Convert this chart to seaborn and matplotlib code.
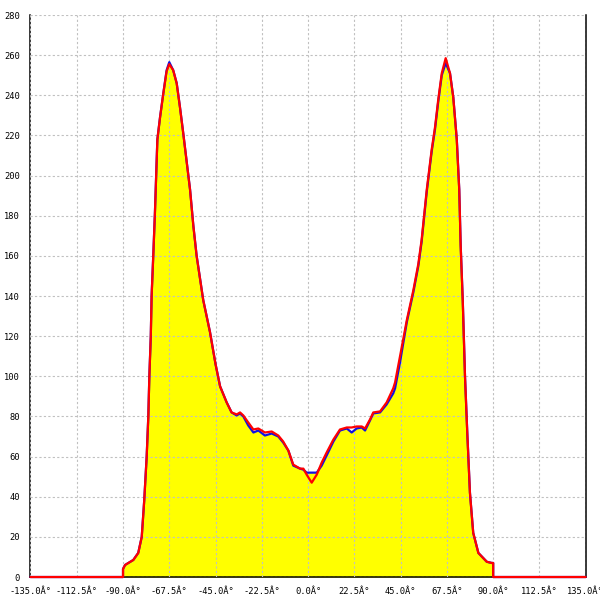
import matplotlib

matplotlib.use("Agg")
import matplotlib.pyplot as plt
import numpy as np
import pandas as pd
import seaborn as sns

# angle (degrees) at which both series were sampled
ANGLES = [
    -135, -90, -90, -89, -85, -82.6, -80.9, -79.7, -78.5, -77.7, -77.2, -76.5, -76.1,
    -75.3, -74.5, -73.3, -72.0, -70.4, -68.8, -67.5, -65.6, -63.9, -62.3, -60.7, -58.7,
    -57.4, -55.8, -54.2, -51.0, -47.7, -45.0, -42.8, -39.6, -37.2, -34.7, -33.1, -31.5,
    -29.1, -26.6, -24.2, -21.0, -17.7, -14.5, -12.1, -9.6, -7.2, -3.9, -2.3, -0.7, 1.75,
    4.2, 6.6, 9.0, 12.3, 15.5, 18.8, 21.2, 23.6, 26.1, 27.7, 30.1, 31.7, 35.0, 38.2,
    41.4, 42.3, 44.7, 48.0, 51.2, 53.6, 55.2, 57.7, 60.1, 61.7, 63.3, 65.0, 66.9, 69.0,
    70.6, 72.3, 73.5, 74.2, 75.2, 76.3, 77.4, 78.7, 80.3, 82.8, 86.9, 89.3, 90, 90, 135,
]
BLUE_COUNTS = [
    0, 0, 4, 6, 8.5, 12, 20, 38, 60, 80, 100, 120, 140,
    160, 181, 218, 229, 241, 252.5, 256.5, 252.5, 246, 234, 221, 204,
    193, 175, 160, 138, 122, 106, 95, 87, 82, 80.5, 81.5, 80,
    75.5, 72, 73, 70.5, 71.5, 70, 67, 63, 55.5, 54, 53.5, 52, 52,
    52, 55.5, 60.5, 67.5, 73, 74, 72, 74, 74.5, 73, 78, 81.5, 82, 86,
    91.5, 94, 107, 127, 142, 155, 167, 192, 212, 223, 237, 250, 256, 251,
    239, 218, 193, 165, 138, 100, 72, 42, 22, 12, 7.6, 7, 7, 0, 0,
]
RED_COUNTS = [
    0, 0, 4, 6, 8.5, 12, 20, 38, 60, 80, 100, 120, 140,
    160, 181, 218, 229, 241, 252, 255.5, 252.5, 246, 234, 221, 204,
    193, 175, 160, 138, 122, 106, 95, 87, 82, 81, 82, 80.5,
    77, 73.5, 74, 72, 72.5, 70.5, 67.5, 63, 56, 54, 54, 51, 47,
    51, 57, 62, 68.5, 73.5, 74.5, 74.5, 75, 75, 74, 78.5, 82, 82.5, 87,
    94, 97, 110, 128, 143, 156, 168, 193, 213, 224, 238, 251, 258.5, 251,
    239, 218, 193, 165, 138, 100, 72, 42, 22, 12, 7.6, 7, 7, 0, 0,
]

X_TICKS = np.arange(-135, 136, 22.5)
X_TICK_LABELS = [f"{t:.1f}Â°" for t in X_TICKS]
Y_TICKS = np.arange(0, 281, 20)

sns.set_style("white")
plt.rcParams["font.family"] = ["DejaVu Sans Mono", "DejaVu Sans"]

df = pd.DataFrame({"angle": ANGLES, "blue": BLUE_COUNTS, "red": RED_COUNTS})

fig = plt.figure(figsize=(6, 6), dpi=100)
ax = fig.add_axes([0.0508, 0.0383, 0.9254, 0.9367])

ax.fill_between(df["angle"], df["blue"], color="#ffff00", linewidth=0, zorder=1)
sns.lineplot(data=df, x="angle", y="blue", sort=False, estimator=None,
             color="#1010e0", linewidth=1.6, ax=ax, zorder=3)
sns.lineplot(data=df, x="angle", y="red", sort=False, estimator=None,
             color="#ff0000", linewidth=1.6, ax=ax, zorder=4)
for line in ax.lines:
    line.set_clip_on(False)

ax.set_xlim(-135, 135)
ax.set_ylim(0, 280)
ax.set_xticks(X_TICKS)
ax.set_xticklabels(X_TICK_LABELS)
ax.set_yticks(Y_TICKS)
ax.set_xlabel("")
ax.set_ylabel("")

ax.set_axisbelow(False)
ax.grid(True, color="#c0c0c0", linestyle=(0, (2, 2)), linewidth=0.8)
ax.spines["top"].set_visible(False)
for side in ("left", "bottom", "right"):
    ax.spines[side].set_color("black")
    ax.spines[side].set_linewidth(1.1)
ax.tick_params(axis="both", direction="inout", length=7, width=1.0,
               labelsize=6.3, colors="black")
ax.tick_params(axis="x", pad=3.6)
ax.tick_params(axis="y", pad=4.3)

fig.savefig("out.png", dpi=100, facecolor="white")
